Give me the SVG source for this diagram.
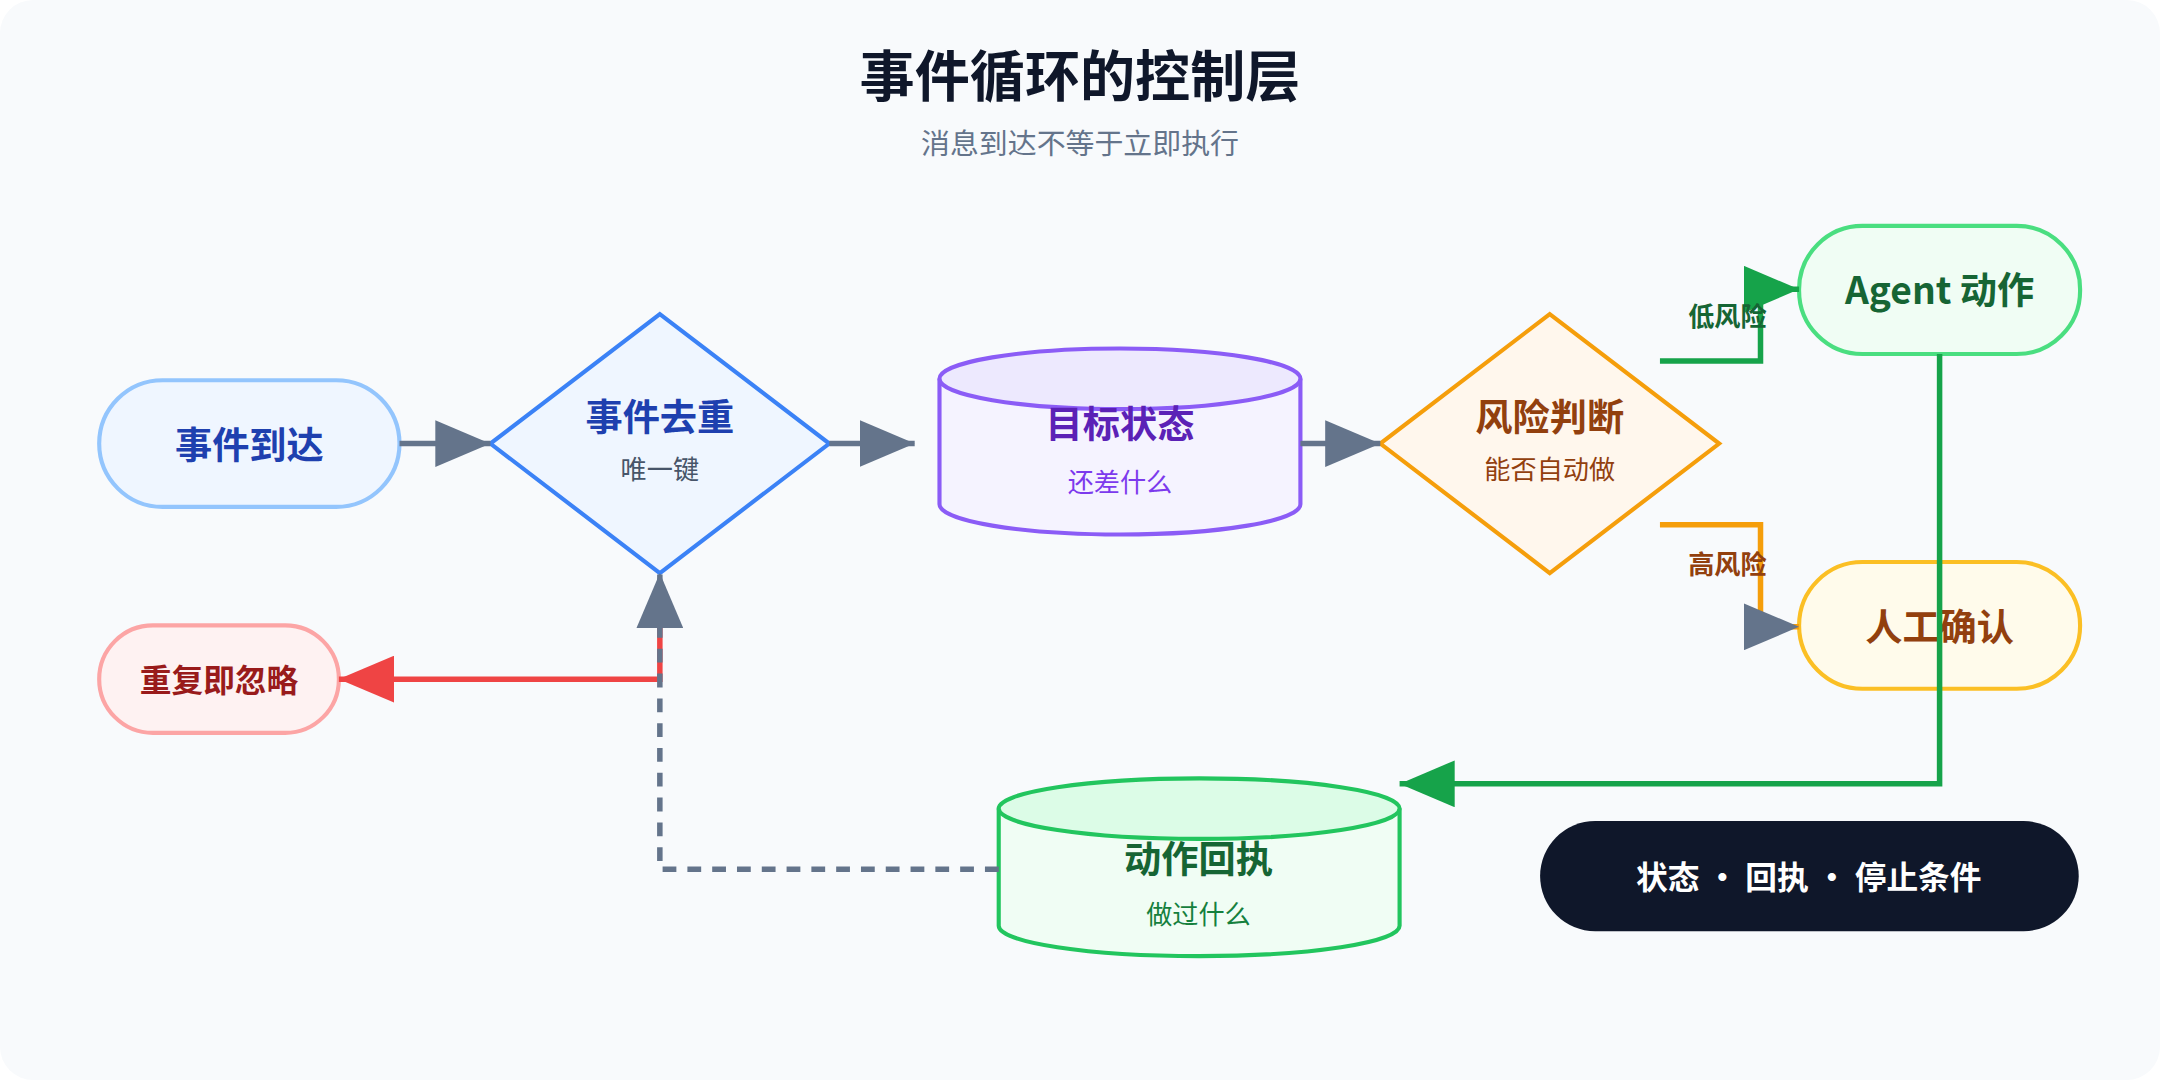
<svg xmlns="http://www.w3.org/2000/svg" width="2160" height="1080" viewBox="0 0 2160 1080">
<defs>
<style>
text{font-family:"Noto Sans CJK SC","Noto Sans",sans-serif;text-anchor:middle}
.b{font-weight:700}
.ln{fill:none;stroke-width:4}
</style>
<marker id="ag" markerUnits="userSpaceOnUse" markerWidth="40" markerHeight="34" refX="40" refY="17" orient="auto"><path d="M0,0L40,17L0,34Z" fill="#64748b"/></marker>
<marker id="agr" markerUnits="userSpaceOnUse" markerWidth="40" markerHeight="34" refX="40" refY="17" orient="auto"><path d="M0,0L40,17L0,34Z" fill="#16a34a"/></marker>
<marker id="ar" markerUnits="userSpaceOnUse" markerWidth="40" markerHeight="34" refX="40" refY="17" orient="auto"><path d="M0,0L40,17L0,34Z" fill="#ef4444"/></marker>
</defs>
<g transform="scale(1.37755)">
<rect x="0" y="0" width="1568" height="784" rx="24" fill="#f8fafc"/>
<text x="784" y="70" class="b" font-size="40" fill="#0f172a">事件循环的控制层</text>
<text x="784" y="112" font-size="21" fill="#64748b">消息到达不等于立即执行</text>
<g id="n1"><rect x="72" y="276" width="218" height="92" rx="46" fill="#eff6ff" stroke="#93c5fd" stroke-width="3"/><text x="181" y="333" class="b" font-size="27" fill="#1e40af">事件到达</text></g>
<g id="n2"><path d="M479,228L602,322L479,416L356,322Z" fill="#eff6ff" stroke="#3b82f6" stroke-width="3"/><text x="479" y="313" class="b" font-size="27" fill="#1e40af">事件去重</text><text x="479" y="348" font-size="19" fill="#475569">唯一键</text></g>
<g id="n3"><path d="M682,275V366A131,22 0 0 0 944,366V275" fill="#f5f3ff" stroke="#8b5cf6" stroke-width="3"/><ellipse cx="813" cy="275" rx="131" ry="22" fill="#ede9fe" stroke="#8b5cf6" stroke-width="3"/><text x="813" y="318" class="b" font-size="27" fill="#5b21b6">目标状态</text><text x="813" y="357" font-size="19" fill="#7c3aed">还差什么</text></g>
<g id="n4"><path d="M1125,228L1248,322L1125,416L1002,322Z" fill="#fff7ed" stroke="#f59e0b" stroke-width="3"/><text x="1125" y="313" class="b" font-size="27" fill="#92400e">风险判断</text><text x="1125" y="348" font-size="19" fill="#92400e">能否自动做</text></g>
<g id="n5"><rect x="1306" y="164" width="204" height="93" rx="46" fill="#f0fdf4" stroke="#4ade80" stroke-width="3"/><text x="1408" y="221" class="b" font-size="27" fill="#166534">Agent 动作</text></g>
<g id="n6"><rect x="1306" y="408" width="204" height="92" rx="46" fill="#fffbeb" stroke="#fbbf24" stroke-width="3"/><text x="1408" y="465" class="b" font-size="27" fill="#92400e">人工确认</text></g>
<g id="n7"><rect x="72" y="454" width="174" height="78" rx="39" fill="#fef2f2" stroke="#fca5a5" stroke-width="3"/><text x="159" y="502" class="b" font-size="23" fill="#991b1b">重复即忽略</text></g>
<g id="n8"><path d="M725,587V672A145,22 0 0 0 1016,672V587" fill="#f0fdf4" stroke="#22c55e" stroke-width="3"/><ellipse cx="870.5" cy="587" rx="145.5" ry="22" fill="#dcfce7" stroke="#22c55e" stroke-width="3"/><text x="870" y="634" class="b" font-size="27" fill="#166534">动作回执</text><text x="870" y="671" font-size="19" fill="#15803d">做过什么</text></g>
<g id="n9"><rect x="1118" y="596" width="391" height="80" rx="40" fill="#0f172a"/><text x="1313" y="645" class="b" font-size="23" fill="#ffffff">状态 · 回执 · 停止条件</text></g>
<g id="connectors">
<path class="ln" d="M290,322H356" stroke="#64748b" marker-end="url(#ag)"/>
<path class="ln" d="M602,322H664" stroke="#64748b" marker-end="url(#ag)"/>
<path class="ln" d="M944,322H1002" stroke="#64748b" marker-end="url(#ag)"/>
<path class="ln" d="M1205,262H1278V210H1306" stroke="#16a34a" marker-end="url(#agr)"/>
<text x="1254" y="237" class="b" font-size="19" fill="#166534">低风险</text>
<path class="ln" d="M1205,381H1278V455H1306" stroke="#f59e0b" marker-end="url(#ag)"/>
<text x="1254" y="417" class="b" font-size="19" fill="#92400e">高风险</text>
<path class="ln" d="M1408,257V569H1016" stroke="#16a34a" marker-end="url(#agr)"/>
<path class="ln" d="M479,450V493H246" stroke="#ef4444" marker-end="url(#ar)"/>
<path class="ln" d="M725,631H479V416" stroke="#64748b" stroke-width="3" stroke-dasharray="10 8" marker-end="url(#ag)"/>
</g>
</g>
</svg>
